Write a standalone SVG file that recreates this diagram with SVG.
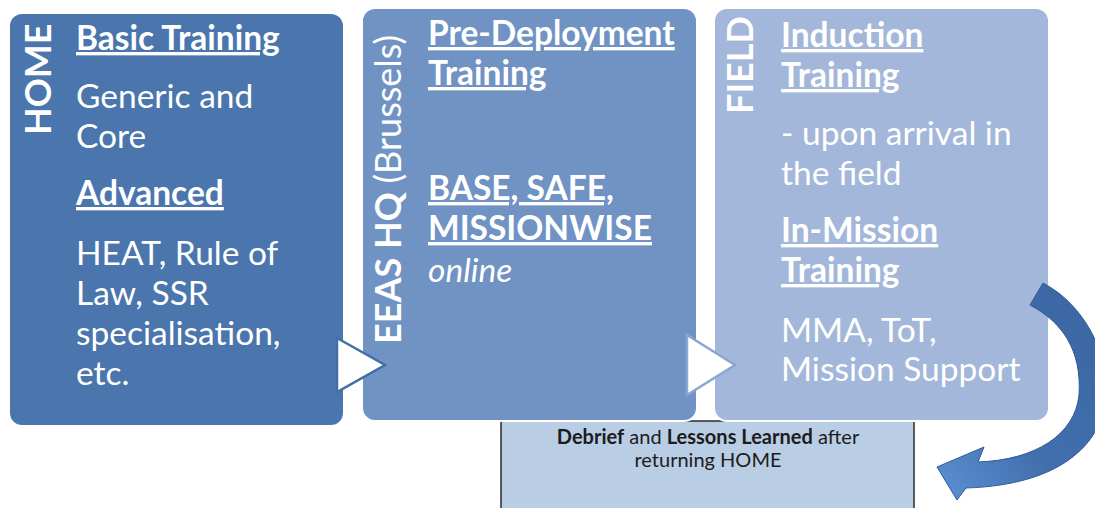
<svg xmlns="http://www.w3.org/2000/svg" width="1095" height="508" viewBox="0 0 1095 508">
  <defs>
    <style>
      .t { font-family: Lato, "Open Sans", sans-serif; fill: #ffffff; font-size: 33.5px; }
      .b { font-weight: bold; }
      .u { text-decoration: underline; }
      .side { font-family: Lato, "Open Sans", sans-serif; fill: #ffffff; font-size: 36px; font-weight: bold; }
      .note { font-family: Lato, "Open Sans", sans-serif; fill: #1c1c1c; font-size: 20px; text-anchor: middle; }
      .stage { stroke: #ffffff; stroke-width: 2; }
    </style>
    <linearGradient id="arrowFill" x1="1" y1="0" x2="0" y2="1">
      <stop offset="0" stop-color="#3a66a2"/>
      <stop offset="0.6" stop-color="#416fae"/>
      <stop offset="1" stop-color="#5d91d4"/>
    </linearGradient>
  </defs>
  <rect width="1095" height="508" fill="#ffffff"/>

  <!-- debrief box sits behind the three stage panels -->
  <g id="debrief">
    <rect x="501" y="421" width="413" height="110" fill="#b9cde5" stroke="#2b2b2b" stroke-width="1.5"/>
    <text class="note" x="708" y="444"><tspan font-weight="bold">Debrief</tspan> and <tspan font-weight="bold">Lessons Learned</tspan> after</text>
    <text class="note" x="708" y="467">returning HOME</text>
  </g>

  <g id="home">
    <rect class="stage" x="9" y="13" width="335" height="413" rx="13" fill="#4a75ad"/>
    <text class="side" transform="translate(51,135) rotate(-90)">HOME</text>
    <text class="t b u" x="76" y="50">Basic Training</text>
    <text class="t" x="76" y="108">Generic and</text>
    <text class="t" x="76" y="148">Core</text>
    <text class="t b u" x="76" y="205">Advanced</text>
    <text class="t" x="76" y="265">HEAT, Rule of</text>
    <text class="t" x="76" y="305">Law, SSR</text>
    <text class="t" x="76" y="345">specialisation,</text>
    <text class="t" x="76" y="385">etc.</text>
  </g>

  <g id="eeas-hq">
    <rect class="stage" x="362" y="8" width="335" height="413" rx="13" fill="#7093c4"/>
    <text class="side" transform="translate(401,344) rotate(-90)">EEAS HQ <tspan font-weight="normal">(Brussels)</tspan></text>
    <text class="t b u" x="428" y="45">Pre-Deployment</text>
    <text class="t b u" x="428" y="85">Training</text>
    <text class="t b u" x="428" y="200">BASE, SAFE,</text>
    <text class="t b u" x="428" y="240">MISSIONWISE</text>
    <text class="t" x="428" y="282" font-style="italic">online</text>
  </g>

  <g id="field">
    <rect class="stage" x="714" y="8" width="335" height="413" rx="13" fill="#a2b7d9"/>
    <text class="side" transform="translate(753,114) rotate(-90)">FIELD</text>
    <text class="t b u" x="781" y="47">Induction</text>
    <text class="t b u" x="781" y="87">Training</text>
    <text class="t" x="781" y="145">- upon arrival in</text>
    <text class="t" x="781" y="185">the field</text>
    <text class="t b u" x="781" y="242">In-Mission</text>
    <text class="t b u" x="781" y="282">Training</text>
    <text class="t" x="781" y="342">MMA, ToT,</text>
    <text class="t" x="781" y="381">Mission Support</text>
  </g>

  <g id="connectors">
    <polygon points="337,338 385,365 337,392" fill="#ffffff" stroke="#436ea7" stroke-width="2.5" stroke-linejoin="miter"/>
    <polygon points="687,335 735,365 687,395" fill="#ffffff" stroke="#8aa7d2" stroke-width="2.5" stroke-linejoin="miter"/>
    <!-- return arrow from the field back home -->
    <path d="M 1043 283 C 1085 305, 1110 355, 1106 400 C 1100 445, 1060 485, 966 488 L 957 500 L 937 467 L 984 447 L 978 462 C 1035 460, 1075 435, 1079 395 C 1082 350, 1062 322, 1030 305 Z" fill="url(#arrowFill)" stroke="#2f5b95" stroke-width="1"/>
  </g>
</svg>
